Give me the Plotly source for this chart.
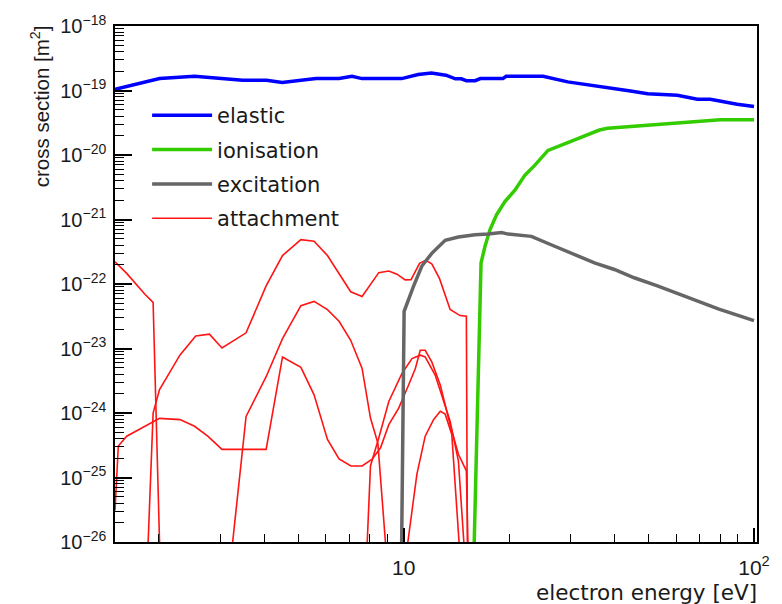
import plotly.graph_objects as go

# ---------------- data (electron energy [eV], cross section [m^2]) -------------
elastic_E = [1.50, 2.01, 2.53, 3.47, 4.06, 4.50, 5.62, 6.54, 7.12, 7.60, 9.87, 11.0,
             12.0, 12.6, 13.2, 14.05, 14.6, 15.1, 16.0, 16.55, 19.2, 19.6, 25.0, 29.4,
             40.0, 44.4, 49.7, 60.4, 68.9, 75.0, 89.5, 100]
elastic_s = [1.04e-19, 1.53e-19, 1.66e-19, 1.44e-19, 1.44e-19, 1.33e-19, 1.53e-19,
             1.53e-19, 1.66e-19, 1.53e-19, 1.53e-19, 1.77e-19, 1.87e-19, 1.77e-19,
             1.73e-19, 1.52e-19, 1.52e-19, 1.42e-19, 1.42e-19, 1.53e-19, 1.53e-19,
             1.66e-19, 1.66e-19, 1.36e-19, 1.04e-19, 9.8e-20, 8.93e-20, 8.41e-20,
             7.3e-20, 7.3e-20, 6.11e-20, 5.64e-20]

ionisation_E = [15.9, 16.63, 17.07, 17.63, 18.41, 19.45, 20.77, 22.17, 23.66, 25.82,
                28.8, 32.1, 36.2, 38.2, 45.5, 55.4, 65.9, 80.2, 100]
ionisation_s = [1e-26, 2.13e-22, 3.85e-22, 6.92e-22, 1.18e-21, 1.89e-21, 2.85e-21,
                4.84e-21, 6.9e-21, 1.18e-20, 1.49e-20, 1.88e-20, 2.44e-20, 2.59e-20,
                2.78e-20, 3.01e-20, 3.27e-20, 3.51e-20, 3.51e-20]

excitation_E = [9.87, 10.03, 10.68, 11.27, 12.03, 13.14, 14.33, 15.99, 17.44, 19.02,
                19.88, 23.15, 26.98, 30.07, 35.05, 39.94, 45.5, 53.0, 67.4, 79.4, 100]
excitation_s = [1e-26, 3.77e-23, 9.35e-23, 1.9e-22, 2.99e-22, 4.75e-22, 5.35e-22,
                5.79e-22, 5.94e-22, 6.27e-22, 5.94e-22, 5.48e-22, 3.85e-22, 3.03e-22,
                2.13e-22, 1.68e-22, 1.25e-22, 9.35e-23, 5.82e-23, 4.08e-23, 2.71e-23]

# attachment channels
att1_E = [1.50, 1.62, 1.826, 1.927, 2.01]
att1_s = [2.21e-22, 1.46e-22, 6.95e-23, 5.18e-23, 1e-26]

att2_E = [1.865, 1.927, 2.01, 2.30, 2.55, 2.79, 3.03, 3.55, 4.05, 4.51, 5.09, 5.55,
          6.06, 7.06, 7.61, 8.49, 9.07, 9.57, 10.1, 10.5, 11.1, 11.55, 12.03, 12.66,
          13.57, 14.49, 15.1, 15.2]
att2_s = [1e-26, 9.96e-25, 2.31e-24, 7.94e-24, 1.56e-23, 1.67e-23, 1.02e-23, 1.75e-23,
          9.35e-23, 2.76e-22, 4.86e-22, 4.59e-22, 2.76e-22, 7.57e-23, 6.4e-23, 1.5e-22,
          1.59e-22, 1.42e-22, 1.16e-22, 1.17e-22, 2.09e-22, 2.33e-22, 2.06e-22,
          1.21e-22, 4.04e-23, 3.24e-23, 3.16e-23, 1e-26]

att3_E = [3.25, 3.55, 4.05, 4.51, 5.09, 5.55, 6.06, 6.54, 7.06, 7.61, 8.04, 8.44, 8.87]
att3_s = [1e-26, 8.87e-25, 3.65e-24, 1.42e-23, 4.61e-23, 5.37e-23, 4.0e-23, 2.64e-23,
          1.34e-23, 4.9e-24, 8.35e-25, 3.41e-25, 1e-26]

att4_E = [1.50, 1.533, 1.62, 2.01, 2.30, 2.53, 2.76, 3.03, 4.05, 4.51, 5.09, 5.55, 6.06,
          6.54, 7.07, 7.61, 8.13, 8.59, 9.07, 9.68, 10.33, 10.8, 11.15, 11.52, 12.03,
          12.72, 13.57, 14.33, 15.1, 15.25]
att4_s = [3.08e-26, 3.07e-25, 4.37e-25, 8.26e-25, 7.89e-25, 6.22e-25, 4.37e-25,
          2.73e-25, 2.73e-25, 7.4e-24, 5.1e-24, 1.91e-24, 3.89e-25, 1.94e-25, 1.51e-25,
          1.51e-25, 1.92e-25, 2.89e-25, 6.6e-25, 1.19e-24, 2.72e-24, 4.9e-24, 9.38e-24,
          9.38e-24, 6.21e-24, 2.72e-24, 6.6e-25, 2.29e-25, 1.27e-25, 1e-26]

att5_E = [7.87, 8.04, 8.49, 9.07, 9.89, 10.56, 11.15, 11.52, 12.3, 12.85, 13.57, 14.33, 14.85]
att5_s = [1e-26, 1.51e-25, 4.11e-25, 1.51e-24, 4.1e-24, 6.97e-24, 7.87e-24, 7.4e-24,
          3.87e-24, 1.91e-24, 7.43e-25, 1.81e-25, 1e-26]

att6_E = [10.28, 10.91, 11.52, 12.17, 12.72, 13.14, 13.72, 14.39]
att6_s = [1e-26, 1.13e-25, 4.37e-25, 7.89e-25, 1.06e-24, 9.6e-25, 4.65e-25, 1e-26]

attachment = [(att1_E, att1_s), (att2_E, att2_s), (att3_E, att3_s),
              (att4_E, att4_s), (att5_E, att5_s), (att6_E, att6_s)]

x_tickvals = [10, 100]
x_ticktext = ["10", "10<sup>2</sup>"]
y_exponents = list(range(-26, -17))

FONT_H = "DejaVu Sans, Liberation Sans, Arial, sans-serif"     # legend / x title
FONT_T = "Liberation Sans, Arial, Helvetica, sans-serif"       # tick labels, y title
TXT = "#1a1a1a"

fig = go.Figure()

for i, (ex, sy) in enumerate(attachment):
    fig.add_trace(go.Scatter(
        x=ex, y=sy, mode="lines", name="attachment",
        line=dict(color="#ff1414", width=1.6),
        legendgroup="attachment", showlegend=(i == 0), legendrank=4))

fig.add_trace(go.Scatter(x=elastic_E, y=elastic_s, mode="lines", name="elastic",
                         line=dict(color="#0000ff", width=3.5),
                         legendgroup="elastic", legendrank=1))
fig.add_trace(go.Scatter(x=ionisation_E, y=ionisation_s, mode="lines", name="ionisation",
                         line=dict(color="#33cc00", width=3.5),
                         legendgroup="ionisation", legendrank=2))
fig.add_trace(go.Scatter(x=excitation_E, y=excitation_s, mode="lines", name="excitation",
                         line=dict(color="#666666", width=3.5),
                         legendgroup="excitation", legendrank=3))

x_minor = [m * d for d in (1, 10) for m in range(2, 10)]
y_minor = [m * 10.0 ** e for e in range(-26, -18) for m in range(2, 10)]

fig.update_xaxes(
    type="log", range=[0.1761, 2.0085],
    showgrid=False, zeroline=False,
    showline=True, linecolor="black", linewidth=1.5, mirror=True,
    ticks="inside", ticklen=14, tickwidth=1.5, tickcolor="black",
    tickmode="array", tickvals=x_tickvals, ticktext=x_ticktext,
    tickfont=dict(family=FONT_T, size=21, color=TXT),
    ticklabelstandoff=6,
    minor=dict(ticks="inside", ticklen=8, tickwidth=1.2, tickcolor="black",
               tickmode="array", tickvals=x_minor, showgrid=False),
)
fig.update_yaxes(
    type="log", range=[-26, -18],
    showgrid=False, zeroline=False,
    showline=True, linecolor="black", linewidth=1.5, mirror=True,
    ticks="inside", ticklen=17, tickwidth=1.5, tickcolor="black",
    tickmode="array", tickvals=[10.0 ** e for e in y_exponents],
    ticktext=["10<sup>\u2212%d</sup>" % (-e) for e in y_exponents],
    tickfont=dict(family=FONT_T, size=20, color=TXT),
    ticklabelstandoff=3,
    minor=dict(ticks="inside", ticklen=9, tickwidth=1.2, tickcolor="black",
               tickmode="array", tickvals=y_minor, showgrid=False),
)

fig.update_layout(
    width=782, height=604,
    margin=dict(l=115, r=22, t=21, b=62),
    plot_bgcolor="white", paper_bgcolor="white",
    font=dict(family=FONT_H, color=TXT),
    showlegend=True,
    legend=dict(x=0.05, y=0.866, xanchor="left", yanchor="top",
                bgcolor="rgba(0,0,0,0)", borderwidth=0,
                font=dict(family=FONT_H, size=21, color=TXT),
                itemwidth=60, tracegroupgap=4, traceorder="grouped"),
    annotations=[
        dict(text="cross section [m<sup>2</sup>]", textangle=-90,
             xref="paper", yref="paper", x=-0.1163, y=1.006,
             xanchor="center", yanchor="top", showarrow=False,
             font=dict(family=FONT_T, size=20.5, color=TXT)),
        dict(text="electron energy [eV]",
             xref="paper", yref="paper", x=1.003, y=-0.098,
             xanchor="right", yanchor="middle", showarrow=False,
             font=dict(family=FONT_H, size=21.5, color=TXT)),
    ],
)

fig.write_html("out.html")
